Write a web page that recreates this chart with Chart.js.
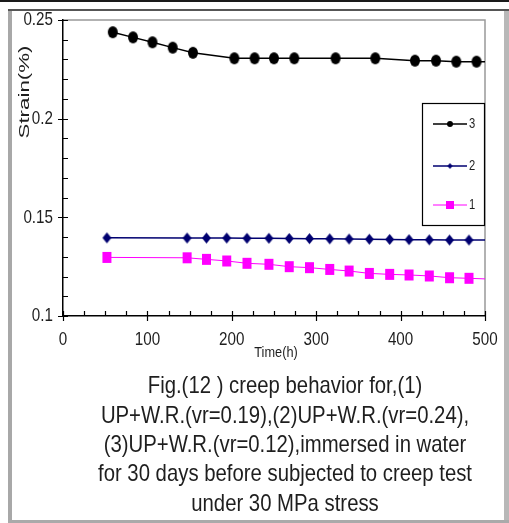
<!DOCTYPE html>
<html><head><meta charset="utf-8">
<script src="https://cdn.jsdelivr.net/npm/chart.js@4"></script>
<style>html,body{margin:0;padding:0;background:#fff;overflow:hidden}#c{display:block}</style>
</head><body>
<canvas id="c" width="509" height="523"></canvas>
<script>
// ---- data ----
const time3   = [59, 83, 106, 130, 154, 203, 227, 250, 274, 323, 370, 417, 442, 466, 490, 500];
const strain3 = [0.2438, 0.2412, 0.2387, 0.2360, 0.2334, 0.2306, 0.2306, 0.2306, 0.2306, 0.2306, 0.2306, 0.2294, 0.2294, 0.2289, 0.2289, 0.2288];
const time12  = [52, 147, 170, 194, 218, 244, 268, 292, 316, 339, 363, 387, 410, 434, 458, 481, 500];
const strain2 = [0.1396, 0.1395, 0.1395, 0.1395, 0.1394, 0.1394, 0.1393, 0.1392, 0.1391, 0.1390, 0.1389, 0.1388, 0.1387, 0.1386, 0.1385, 0.1385, 0.1385];
const strain1 = [0.1297, 0.1295, 0.1287, 0.1279, 0.1267, 0.1262, 0.1250, 0.1245, 0.1236, 0.1228, 0.1216, 0.1211, 0.1208, 0.1203, 0.1194, 0.1191, 0.1188];
const seriesNames = ['3', '2', '1'];
const xTickLabels = [0, 100, 200, 300, 400, 500];
const yTickLabels = [0.1, 0.15, 0.2, 0.25];
const xTitle = 'Time(h)';
const yTitle = 'Strain(%)';
const captionLines = [
  'Fig.(12 ) creep behavior for,(1)',
  'UP+W.R.(vr=0.19),(2)UP+W.R.(vr=0.24),',
  '(3)UP+W.R.(vr=0.12),immersed in water',
  'for 30 days before subjected to creep test',
  'under 30 MPa stress'
];

const FONT = "'Liberation Sans', Arial, sans-serif";

function marker(type, w, h, color) {
  const c = document.createElement('canvas');
  c.width = w + 2; c.height = h + 2;
  const g = c.getContext('2d');
  const cx = c.width / 2, cy = c.height / 2;
  g.fillStyle = color;
  g.beginPath();
  if (type === 'circle') g.ellipse(cx, cy, w / 2, h / 2, 0, 0, Math.PI * 2);
  else if (type === 'diamond') { g.moveTo(cx, cy - h / 2); g.lineTo(cx + w / 2, cy); g.lineTo(cx, cy + h / 2); g.lineTo(cx - w / 2, cy); g.closePath(); }
  else g.rect(cx - w / 2, cy - h / 2, w, h);
  g.fill();
  return c;
}

const colors = ['#000000', '#000070', '#ff00ff'];
const styles = [marker('circle', 10, 12, colors[0]), marker('diamond', 9, 11, colors[1]), marker('square', 9, 11, colors[2])];
const legendStyles = [marker('circle', 6, 6, colors[0]), marker('diamond', 5, 6, colors[1]), marker('square', 8, 8, colors[2])];

function pts(xs, ys) { return xs.map((x, i) => ({ x: x, y: ys[i] })); }
const endHidden = (n) => (ctx) => ctx.dataIndex === n - 1 ? 0 : 5;

function txt(ctx, s, x, y, size, sx, align, color) {
  ctx.save();
  ctx.translate(x, y);
  ctx.scale(sx, 1);
  ctx.font = size + 'px ' + FONT;
  ctx.textAlign = align;
  ctx.textBaseline = 'middle';
  ctx.fillStyle = color || '#1e1e1e';
  ctx.fillText(s, 0, 0);
  ctx.restore();
}

const decor = {
  id: 'decor',
  beforeDraw(chart) {
    const ctx = chart.ctx;
    ctx.save();
    ctx.fillStyle = '#fff';
    ctx.fillRect(0, 0, chart.width, chart.height);
    // outer frame
    ctx.fillStyle = '#1a1a1a'; ctx.fillRect(0, 0, 509, 2);
    ctx.fillStyle = '#a8a8a8'; ctx.fillRect(8, 9, 4, 514);
    ctx.fillStyle = '#b8b8b8'; ctx.fillRect(504, 9, 5, 514);
    ctx.fillStyle = '#555'; ctx.fillRect(8, 9, 501, 2);
    ctx.fillStyle = '#aaa'; ctx.fillRect(8, 520, 501, 3);
    // plot top/right border (gray)
    const a = chart.chartArea;
    ctx.strokeStyle = '#999'; ctx.lineWidth = 1.5;
    ctx.beginPath();
    ctx.moveTo(a.left, a.top); ctx.lineTo(a.right, a.top); ctx.lineTo(a.right, a.bottom);
    ctx.stroke();
    ctx.restore();
  },
  afterDraw(chart) {
    const ctx = chart.ctx;
    const xs = chart.scales.x, ys = chart.scales.y;
    const a = chart.chartArea;
    ctx.save();
    ctx.strokeStyle = '#000'; ctx.lineWidth = 1.2;
    ctx.beginPath();
    // x ticks every 25 h
    for (let v = 0; v <= 500; v += 25) {
      const px = Math.round(xs.getPixelForValue(v)) + 0.5;
      const major = v % 100 === 0;
      ctx.moveTo(px, a.bottom - 5); ctx.lineTo(px, major ? a.bottom + 5 : a.bottom);
    }
    // y ticks every 0.01
    for (let k = 10; k <= 25; k++) {
      const py = Math.round(ys.getPixelForValue(k / 100)) + 0.5;
      const major = k % 5 === 0;
      ctx.moveTo(major ? a.left - 5 : a.left, py); ctx.lineTo(a.left + 5, py);
    }
    ctx.stroke();
    ctx.restore();

    // tick labels
    xTickLabels.forEach(v => txt(ctx, String(v), xs.getPixelForValue(v), a.bottom + 24, 19, 0.8, 'center'));
    yTickLabels.forEach(v => txt(ctx, String(v), a.left - 10, ys.getPixelForValue(v), 19, 0.8, 'right'));

    // axis titles
    txt(ctx, xTitle, 276, 353, 15, 0.85, 'center');
    ctx.save();
    ctx.font = '15px ' + FONT;
    const wy = ctx.measureText(yTitle).width;
    ctx.translate(25, 92);
    ctx.rotate(-Math.PI / 2);
    ctx.scale(93 / wy, 1);
    ctx.textAlign = 'center'; ctx.textBaseline = 'middle';
    ctx.fillStyle = '#1e1e1e';
    ctx.fillText(yTitle, 0, 0);
    ctx.restore();

    // legend box
    ctx.save();
    ctx.fillStyle = '#fff'; ctx.strokeStyle = '#000'; ctx.lineWidth = 1.2;
    ctx.fillRect(422, 103, 63, 123);
    ctx.strokeRect(422.5, 103.5, 62, 122);
    const ly = [124, 166, 205];
    chart.data.datasets.forEach((ds, i) => {
      ctx.strokeStyle = ds.borderColor; ctx.lineWidth = ds.borderWidth;
      ctx.beginPath(); ctx.moveTo(433, ly[i]); ctx.lineTo(467, ly[i]); ctx.stroke();
      const m = legendStyles[i];
      ctx.drawImage(m, 450 - m.width / 2, ly[i] - m.height / 2);
      txt(ctx, ds.label, 469, ly[i], 14, 0.8, 'left');
    });
    ctx.restore();

    // caption
    ctx.save();
    ctx.font = '24px ' + FONT;
    const w4 = ctx.measureText(captionLines[3]).width;
    ctx.restore();
    const sx = 374 / w4;
    const cy = [386, 416, 445, 474, 504];
    captionLines.forEach((s, i) => txt(ctx, s, 285, cy[i], 24, sx, 'center'));
  }
};

new Chart(document.getElementById('c'), {
  type: 'line',
  data: {
    datasets: [
      { label: seriesNames[0], data: pts(time3, strain3), borderColor: colors[0], backgroundColor: colors[0], borderWidth: 1.5,
        pointStyle: styles[0], pointRadius: endHidden(time3.length), tension: 0 },
      { label: seriesNames[1], data: pts(time12, strain2), borderColor: colors[1], backgroundColor: colors[1], borderWidth: 1.5,
        pointStyle: styles[1], pointRadius: endHidden(time12.length), tension: 0 },
      { label: seriesNames[2], data: pts(time12, strain1), borderColor: colors[2], backgroundColor: colors[2], borderWidth: 1,
        pointStyle: styles[2], pointRadius: endHidden(time12.length), tension: 0 }
    ]
  },
  options: {
    responsive: false,
    devicePixelRatio: 1,
    animation: false,
    events: [],
    layout: { padding: { left: 63, right: 24, top: 20, bottom: 207 } },
    plugins: { legend: { display: false }, tooltip: { enabled: false }, title: { display: false } },
    scales: {
      x: { type: 'linear', min: 0, max: 500,
           ticks: { display: false }, grid: { display: false, drawTicks: false },
           border: { display: true, color: '#000', width: 1.5 } },
      y: { type: 'linear', min: 0.1, max: 0.25,
           ticks: { display: false }, grid: { display: false, drawTicks: false },
           border: { display: true, color: '#000', width: 1.5 } }
    }
  },
  plugins: [decor]
});
</script>
</body></html>
